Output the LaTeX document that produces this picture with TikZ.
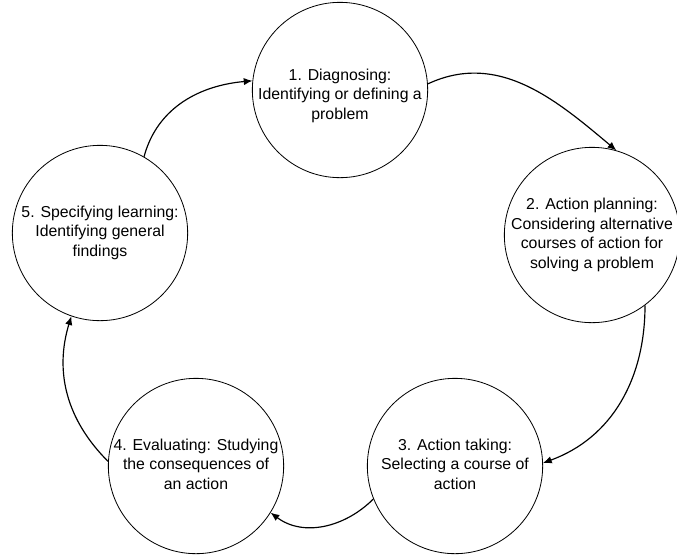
\documentclass[tikz,border=0pt]{standalone}
\usepackage{fontspec}
\setmainfont{Liberation Sans}
\usetikzlibrary{arrows.meta}
\newcommand{\cyclabel}[2][0pt]{\makebox[0pt]{\raisebox{#1}[\height][\depth]{\begin{tabular}{@{}c@{}}#2\end{tabular}}}}

\begin{document}
\begin{tikzpicture}[x=0.3mm, y=0.3mm, >={Latex[length=2.6mm, width=2.2mm]},
      font=\fontsize{13.5}{17}\selectfont,
      every node/.style={circle, draw, line width=0.7pt, minimum size=52.6mm, inner sep=0pt}]
      \useasboundingbox (0,0) rectangle (677,-557);
      \node (diag)  at (340,-90)  {\cyclabel[-1.8mm]{1. Diagnosing:\\ Identifying or defining a\\ problem}};
      \node (plan)  at (592,-235) {\cyclabel{2. Action planning:\\ Considering alternative\\ courses of action for\\ solving a problem}};
      \node (take)  at (455,-466) {\cyclabel{3. Action taking:\\ Selecting a course of\\ action}};
      \node (eval)  at (196,-466) {\cyclabel{4. Evaluating: Studying\\ the consequences of\\ an action}};
      \node (learn) at (100,-233) {\cyclabel{5. Specifying learning:\\ Identifying general\\ findings}};
      \draw[->, line width=1pt] (diag.4) to[out=25, in=140] (plan.74);
      \draw[->, line width=1pt] (plan.-53) to[out=-90, in=20] (take.2);
      \draw[->, line width=1pt] (take.202) to[out=-135, in=-37] (eval.-32);
      \draw[->, line width=1pt] (eval.177) to[out=135, in=-107] (learn.-109);
      \draw[->, line width=1pt] (learn.60) to[out=75, in=185] (diag.174);
    \end{tikzpicture}
\end{document}
